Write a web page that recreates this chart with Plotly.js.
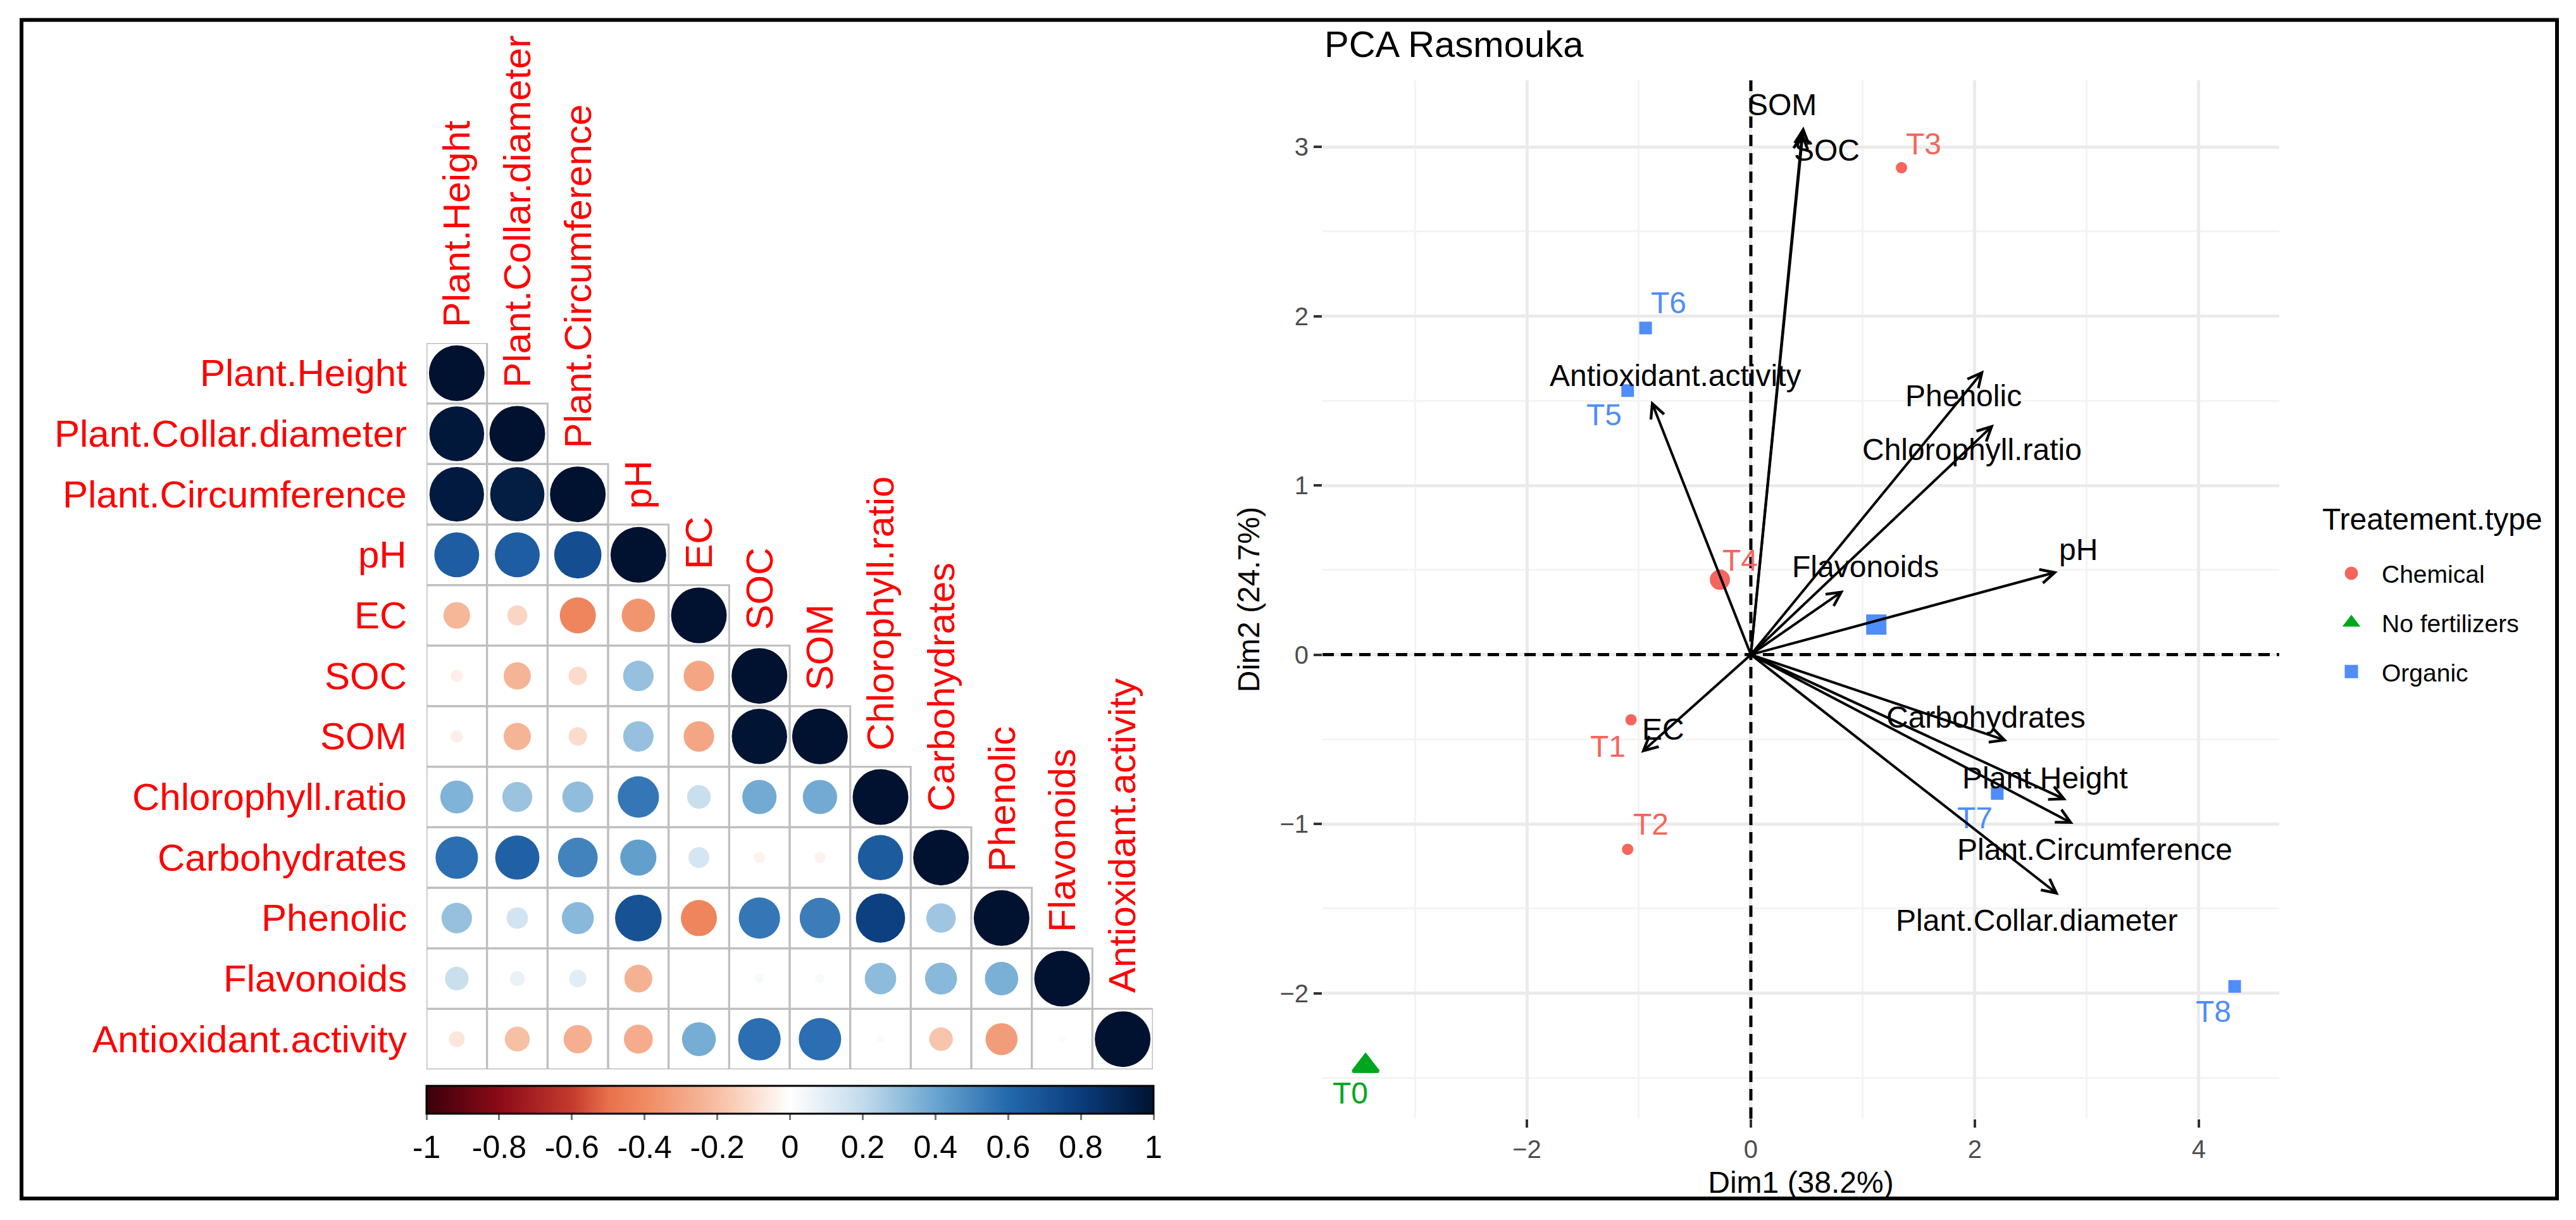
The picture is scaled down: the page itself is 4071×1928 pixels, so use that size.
<!DOCTYPE html>
<html>
<head>
<meta charset="utf-8">
<script src="https://cdn.plot.ly/plotly-3.0.1.min.js"></script>
<style>
html,body{margin:0;padding:0;background:#ffffff;}
#chart{width:4071px;height:1928px;}
</style>
</head>
<body>
<div id="chart"></div>
<script>
// ---------------- DATA ----------------
// Correlation matrix (lower triangle, row by row)
const variables = ['Plant.Height','Plant.Collar.diameter','Plant.Circumference','pH','EC','SOC','SOM',
  'Chlorophyll.ratio','Carbohydrates','Phenolic','Flavonoids','Antioxidant.activity'];
const corrRows = [
  [1],
  [0.97, 1],
  [0.96, 0.95, 1],
  [0.65, 0.65, 0.72, 1],
  [-0.23, -0.13, -0.42, -0.36, 1],
  [-0.05, -0.24, -0.11, 0.30, -0.30, 1],
  [-0.05, -0.24, -0.11, 0.30, -0.30, 0.99, 1],
  [0.35, 0.29, 0.31, 0.55, 0.18, 0.38, 0.38, 1],
  [0.58, 0.63, 0.51, 0.42, 0.14, -0.04, -0.04, 0.66, 1],
  [0.30, 0.15, 0.33, 0.70, -0.42, 0.55, 0.53, 0.78, 0.28, 1],
  [0.18, 0.07, 0.10, -0.25, 0.00, 0.03, 0.03, 0.32, 0.33, 0.36, 1],
  [-0.08, -0.20, -0.26, -0.27, 0.37, 0.58, 0.58, -0.02, -0.18, -0.33, 0.02, 1]
];
const colorbarTicks = [-1, -0.8, -0.6, -0.4, -0.2, 0, 0.2, 0.4, 0.6, 0.8, 1];
const colorbarTickLabels = ['-1','-0.8','-0.6','-0.4','-0.2','0','0.2','0.4','0.6','0.8','1'];

// PCA individuals
const groupNames = ['Chemical', 'No fertilizers', 'Organic'];
const chemicalLabels = ['T1', 'T2', 'T3', 'T4'];
const chemicalDim1 = [-1.07, -1.10, 1.345, -0.28];
const chemicalDim2 = [-0.385, -1.15, 2.877, 0.43];
const noFertLabels = ['T0'];
const noFertDim1 = [-3.44];
const noFertDim2 = [-2.43];
const organicLabels = ['T5', 'T6', 'T7', 'T8'];
const organicDim1 = [-1.10, -0.94, 2.20, 4.32];
const organicDim2 = [1.56, 1.93, -0.82, -1.96];

// PCA variables (arrow tips)
const varNames = ['SOM','SOC','Antioxidant.activity','Phenolic','Chlorophyll.ratio','pH','Flavonoids','EC',
  'Carbohydrates','Plant.Height','Plant.Circumference','Plant.Collar.diameter'];
const varDim1 = [0.47, 0.46, -0.89, 2.08, 2.17, 2.74, 0.83, -0.98, 2.29, 2.82, 2.88, 2.75];
const varDim2 = [3.12, 3.09, 1.50, 1.68, 1.36, 0.49, 0.38, -0.58, -0.51, -0.86, -1.00, -1.42];

const pcaTitle = 'PCA Rasmouka';
const dim1Title = 'Dim1 (38.2%)';
const dim2Title = 'Dim2 (24.7%)';
const legendTitle = 'Treatement.type';

// ---------------- STYLE / LAYOUT ----------------
const W = 4071, H = 1928;
const px = v => v / W;
const py = v => 1 - v / H;
const FONT = 'Liberation Sans, Arial, Helvetica, sans-serif';

const corrColorscale = [
  [0, '#3B000B'], [0.1, '#8B0A17'], [0.2, '#C43A2E'], [0.25, '#E8704A'], [0.3, '#F08A62'], [0.4, '#F7BFA3'],
  [0.5, '#FFFFFF'], [0.6, '#C3DBEC'], [0.7, '#69A5D0'], [0.8, '#2468AD'], [0.9, '#0A3C7C'], [1, '#001230']
];
const groupColors = {'Chemical': '#F6655C', 'No fertilizers': '#00A61E', 'Organic': '#4F8DF9'};
const groupSymbols = {'Chemical': 'circle', 'No fertilizers': 'triangle-up', 'Organic': 'square'};
const indSizes = {'Chemical': 18, 'No fertilizers': 20, 'Organic': 20};
const meanSizes = {'Chemical': 27, 'No fertilizers': 35, 'Organic': 27};
// label offsets (px): [xshift, yshift]
const indLabelShift = {
  'T1': [-37, -42], 'T2': [37, 40], 'T3': [35, 38], 'T4': [33, 34],
  'T0': [-24, -43],
  'T5': [-37, -38], 'T6': [36, 40], 'T7': [-35, -39], 'T8': [-34, -40]
};
const varLabelShift = [[-34, 35], [39, -29], [39, 40], [-32, -40], [-35, -40], [33, 35], [34, 37],
  [35, 37], [-34, 37], [-34, 35], [34, -40], [-35, -40]];

const CELL_D = 88; // diameter of a |r| = 1 circle in px

// ---------------- BUILD ----------------
const traces = [];
const shapes = [];
const annotations = [];

// correlation circles
const n = variables.length;
const cx = [], cy = [], cval = [], csize = [];
for (let i = 0; i < n; i++) {
  for (let j = 0; j <= i; j++) {
    const r = corrRows[i][j];
    cx.push(j); cy.push(i); cval.push(r);
    csize.push(CELL_D * Math.sqrt(Math.abs(r)));
    shapes.push({type: 'rect', xref: 'x', yref: 'y', x0: j - 0.5, x1: j + 0.5, y0: i - 0.5, y1: i + 0.5,
      line: {color: '#BEBEBE', width: 3}, layer: 'below'});
  }
}
traces.push({
  type: 'scatter', mode: 'markers', x: cx, y: cy, xaxis: 'x', yaxis: 'y', showlegend: false,
  hoverinfo: 'skip',
  marker: {
    size: csize, color: cval, cmin: -1, cmax: 1, colorscale: corrColorscale,
    line: {width: 0}, opacity: 1,
    showscale: true,
    colorbar: {
      orientation: 'h', x: px((674 + 1823) / 2), xanchor: 'center', y: py(1716), yanchor: 'top',
      len: 1149, lenmode: 'pixels', thickness: 44, thicknessmode: 'pixels',
      xpad: 0, ypad: 0, outlinewidth: 3, outlinecolor: '#000', borderwidth: 0,
      tickmode: 'array', tickvals: colorbarTicks, ticktext: colorbarTickLabels,
      ticks: 'outside', ticklen: 9, tickwidth: 3, tickcolor: '#777777',
      tickfont: {size: 50, color: '#000', family: FONT}
    }
  }
});
variables.forEach((v, i) => {
  annotations.push({xref: 'x', yref: 'y', x: -0.5, y: i, text: v, showarrow: false,
    xanchor: 'right', yanchor: 'middle', xshift: -29, font: {size: 60, color: '#FF0000', family: FONT}});
  annotations.push({xref: 'x', yref: 'y', x: i, y: i - 0.5, text: v, showarrow: false, textangle: -90,
    xanchor: 'center', yanchor: 'bottom', yshift: 23, font: {size: 60, color: '#FF0000', family: FONT}});
});

// PCA individuals
const groups = [
  {name: 'Chemical', labels: chemicalLabels, d1: chemicalDim1, d2: chemicalDim2},
  {name: 'No fertilizers', labels: noFertLabels, d1: noFertDim1, d2: noFertDim2},
  {name: 'Organic', labels: organicLabels, d1: organicDim1, d2: organicDim2}
];
const mean = a => a.reduce((s, v) => s + v, 0) / a.length;
groups.forEach(g => {
  traces.push({
    type: 'scatter', mode: 'markers', name: g.name + ' (individuals)', legendgroup: g.name, showlegend: false,
    x: g.d1, y: g.d2, xaxis: 'x2', yaxis: 'y2', hoverinfo: 'skip', cliponaxis: false,
    marker: {symbol: groupSymbols[g.name], color: groupColors[g.name], size: indSizes[g.name], line: {width: 0}}
  });
});
groups.forEach(g => {
  traces.push({
    type: 'scatter', mode: 'markers', name: g.name, legendgroup: g.name, showlegend: true,
    x: [mean(g.d1)], y: [mean(g.d2)], xaxis: 'x2', yaxis: 'y2', hoverinfo: 'skip', cliponaxis: false,
    marker: {symbol: groupSymbols[g.name], color: groupColors[g.name], size: meanSizes[g.name],
      line: {width: 5, color: groupColors[g.name]}}
  });
  g.labels.forEach((lab, k) => {
    const sh = indLabelShift[lab] || [30, 30];
    annotations.push({xref: 'x2', yref: 'y2', x: g.d1[k], y: g.d2[k], text: lab, showarrow: false,
      xshift: sh[0], yshift: sh[1], xanchor: 'center', yanchor: 'middle',
      font: {size: 48, color: groupColors[g.name], family: FONT}});
  });
});

// PCA variable arrows + labels
varNames.forEach((v, k) => {
  annotations.push({xref: 'x2', yref: 'y2', axref: 'x2', ayref: 'y2', x: varDim1[k], y: varDim2[k], ax: 0, ay: 0,
    showarrow: true, arrowhead: 5, arrowsize: 1.1, arrowwidth: 4, arrowcolor: '#000000',
    standoff: 0, startstandoff: 0, font: {size: 1}});
  annotations.push({xref: 'x2', yref: 'y2', x: varDim1[k], y: varDim2[k], text: v, showarrow: false,
    xshift: varLabelShift[k][0], yshift: varLabelShift[k][1], xanchor: 'center', yanchor: 'middle',
    font: {size: 48, color: '#000000', family: FONT}});
});

// dashed reference lines
shapes.push({type: 'line', xref: 'x2', yref: 'y2 domain', x0: 0, x1: 0, y0: 0, y1: 1,
  line: {color: '#000', width: 5, dash: '18px,11px'}});
shapes.push({type: 'line', xref: 'x2 domain', yref: 'y2', x0: 0, x1: 1, y0: 0, y1: 0,
  line: {color: '#000', width: 5, dash: '18px,11px'}});
// outer frame
shapes.push({type: 'rect', xref: 'paper', yref: 'paper', x0: px(34), x1: px(4041), y0: py(1894), y1: py(31.5),
  line: {color: '#000', width: 6}});

const hidden = {showgrid: false, zeroline: false, showticklabels: false, ticks: '', showline: false, fixedrange: true};

const layout = {
  width: W, height: H,
  margin: {l: 0, r: 0, t: 0, b: 0, pad: 0},
  paper_bgcolor: '#ffffff', plot_bgcolor: 'rgba(0,0,0,0)',
  font: {family: FONT, color: '#000'},
  title: {text: pcaTitle, x: px(2093), xanchor: 'left', xref: 'paper', y: py(70), yanchor: 'middle',
    font: {size: 58, color: '#000', family: FONT}},
  xaxis: Object.assign({domain: [px(674), px(1822)], range: [-0.5, 11.5], anchor: 'y'}, hidden),
  yaxis: Object.assign({domain: [py(1690), py(542)], range: [11.5, -0.5], anchor: 'x'}, hidden),
  xaxis2: {
    domain: [px(2090), px(3602)], range: [-3.825, 4.718], anchor: 'y2',
    tickmode: 'linear', tick0: 0, dtick: 2,
    ticks: 'outside', ticklen: 13, tickwidth: 4, tickcolor: '#333333',
    tickfont: {size: 40, color: '#4D4D4D', family: FONT},
    showgrid: true, gridcolor: '#EBEBEB', gridwidth: 5,
    minor: {tickmode: 'linear', tick0: 0, dtick: 1, showgrid: true, gridcolor: '#F4F4F4', gridwidth: 3},
    zeroline: false, showline: false, fixedrange: true, automargin: false,
    title: {text: dim1Title, font: {size: 48, color: '#000', family: FONT}, standoff: 14}
  },
  yaxis2: {
    domain: [py(1768), py(127)], range: [-2.742, 3.393], anchor: 'x2',
    tickmode: 'linear', tick0: 0, dtick: 1,
    ticks: 'outside', ticklen: 13, tickwidth: 4, tickcolor: '#333333',
    tickfont: {size: 40, color: '#4D4D4D', family: FONT},
    showgrid: true, gridcolor: '#EBEBEB', gridwidth: 5,
    minor: {tickmode: 'linear', tick0: 0, dtick: 0.5, showgrid: true, gridcolor: '#F4F4F4', gridwidth: 3},
    zeroline: false, showline: false, fixedrange: true, automargin: false,
    title: {text: dim2Title, font: {size: 48, color: '#000', family: FONT}, standoff: 16}
  },
  legend: {
    x: px(3668), xanchor: 'left', y: py(800), yanchor: 'top',
    title: {text: '<span style="font-size:48px">' + legendTitle + '</span><br> ',
      font: {size: 28.5, color: '#000', family: FONT}, side: 'top'},
    font: {size: 39, color: '#000', family: FONT},
    itemwidth: 86, traceorder: 'grouped', tracegroupgap: 24,
    bgcolor: 'rgba(0,0,0,0)', borderwidth: 0
  },
  showlegend: true,
  shapes: shapes,
  annotations: annotations
};

Plotly.newPlot('chart', traces, layout, {displayModeBar: false, staticPlot: true});
</script>
</body>
</html>
